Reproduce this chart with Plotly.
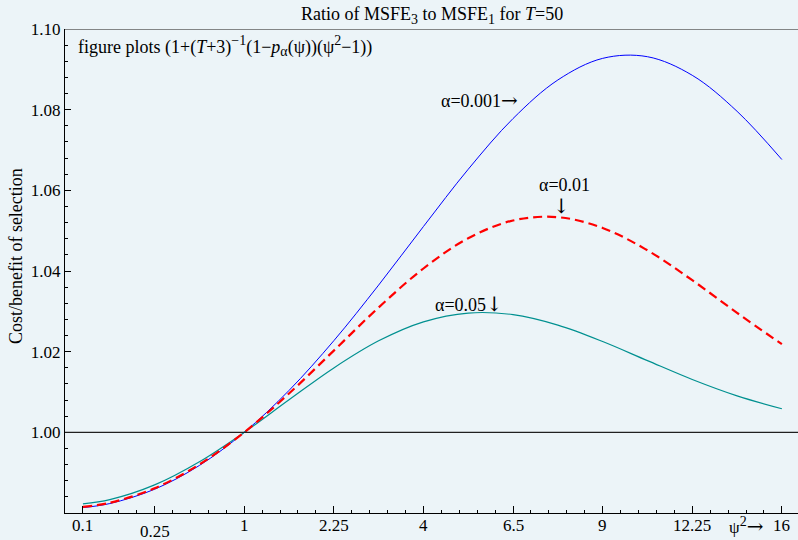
import plotly.graph_objects as go

# psi values (x axis is psi; tick labels show psi^2)
psi = [0.1, 0.25, 0.5, 0.75, 1.0, 1.25, 1.5, 1.75, 2.0, 2.25, 2.5, 2.75, 3.0, 3.25, 3.5, 3.75, 4.0]

ratio_a001 = [0.98134, 0.98234, 0.98589, 0.99179, 1.00000, 1.01039, 1.02272, 1.03651, 1.05103,
              1.06523, 1.07780, 1.08736, 1.09272, 1.09313, 1.08852, 1.07959, 1.06764]
ratio_a01 = [0.98152, 0.98253, 0.98613, 0.99203, 1.00000, 1.00963, 1.02026, 1.03096, 1.04062,
             1.04812, 1.05252, 1.05335, 1.05067, 1.04512, 1.03772, 1.02962, 1.02185]
ratio_a05 = [0.98228, 0.98332, 0.98697, 0.99271, 1.00000, 1.00807, 1.01597, 1.02269, 1.02740,
             1.02958, 1.02918, 1.02659, 1.02252, 1.01778, 1.01311, 1.00905, 1.00585]

x_tickvals = [0.1, 0.5, 1.0, 1.5, 2.0, 2.5, 3.0, 3.5, 4.0]
x_ticktext = ["0.1", "0.25", "1", "2.25", "4", "6.5", "9", "12.25", "16"]
x_label_drop = [0, 6, 0, 0, 0, 0, 0, 0, 0]

y_tickvals = [1.00, 1.02, 1.04, 1.06, 1.08, 1.10]
y_ticktext = ["1.00", "1.02", "1.04", "1.06", "1.08", "1.10"]

FONT = "Liberation Serif"
BG = "#ECF4F8"
RA = "<span style='font-family:DejaVu Serif;font-size:20px'>→</span>"
DA = "<span style='font-family:DejaVu Serif;font-size:20px'>↓</span>"
SUB = "<sub><span style='font-size:14px'>{}</span></sub>"
SUP = "<sup><span style='font-size:14px'>{}</span></sup>"

fig = go.Figure()
fig.add_trace(go.Scatter(x=psi, y=ratio_a001, mode="lines", line=dict(color="#0000FF", width=1, shape="spline"),
                         showlegend=False))
fig.add_trace(go.Scatter(x=psi, y=ratio_a05, mode="lines", line=dict(color="#009090", width=1.2, shape="spline"),
                         showlegend=False))
fig.add_trace(go.Scatter(x=psi, y=ratio_a01, mode="lines", line=dict(color="#FF0000", width=2.2, dash="9px,5px", shape="spline"),
                         showlegend=False))

shapes = [
    dict(type="line", xref="paper", yref="y", x0=0, x1=1, y0=1.10, y1=1.10, line=dict(color="#606060", width=1.6)),
    dict(type="line", xref="paper", yref="y", x0=0, x1=1, y0=1.00, y1=1.00, line=dict(color="#202020", width=1.4)),
]

annotations = []
for v, t, d in zip(x_tickvals, x_ticktext, x_label_drop):
    annotations.append(dict(x=v, y=0, xref="x", yref="paper", text=t, showarrow=False,
                            xanchor="center", yanchor="top", yshift=-1 - d,
                            font=dict(family=FONT, size=17, color="black")))
annotations += [
    dict(x=3.91, y=0, xref="x", yref="paper", text="ψ" + SUP.format("2") + RA, showarrow=False,
         xanchor="right", yanchor="top", yshift=1, font=dict(family=FONT, size=17, color="black")),
    dict(x=0.5, y=1, xref="paper", yref="paper",
         text="Ratio of MSFE" + SUB.format("3") + " to MSFE" + SUB.format("1") + " for <i>T</i>=50",
         showarrow=False, xanchor="center", yanchor="bottom", yshift=0,
         font=dict(family=FONT, size=18, color="black")),
    dict(x=0.06, y=1.0957, xref="x", yref="y",
         text="figure plots (1+(<i>T</i>+3)" + SUP.format("−1") + "(1−<i>p</i>" + SUB.format("α")
              + "(ψ))(ψ" + SUP.format("2") + "−1))",
         showarrow=False, xanchor="left", yanchor="middle", font=dict(family=FONT, size=18, color="black")),
    dict(x=2.54, y=1.0823, xref="x", yref="y", text="α=0.001" + RA, showarrow=False,
         xanchor="right", yanchor="middle", font=dict(family=FONT, size=18, color="black")),
    dict(x=2.787, y=1.0612, xref="x", yref="y", text="α=0.01", showarrow=False,
         xanchor="center", yanchor="middle", font=dict(family=FONT, size=18, color="black")),
    dict(x=2.77, y=1.0562, xref="x", yref="y", text=DA, showarrow=False,
         xanchor="center", yanchor="middle", font=dict(family=FONT, size=18, color="black")),
    dict(x=2.051, y=1.0319, xref="x", yref="y", text="α=0.05" + DA, showarrow=False,
         xanchor="left", yanchor="middle", font=dict(family=FONT, size=18, color="black")),
    dict(x=-0.066, y=0.53, xref="paper", yref="paper", text="Cost/benefit of selection", showarrow=False,
         textangle=-90, xanchor="center", yanchor="middle", font=dict(family=FONT, size=18, color="black")),
]

fig.update_layout(
    width=798, height=540,
    margin=dict(l=65, r=0, t=29, b=27, pad=0),
    paper_bgcolor=BG, plot_bgcolor=BG,
    shapes=shapes, annotations=annotations,
    font=dict(family=FONT, size=17, color="black"),
    xaxis=dict(range=[0, 4.09], showgrid=False, zeroline=False, showline=True, linecolor="black", linewidth=1.4,
               tickmode="array", tickvals=x_tickvals, showticklabels=False,
               ticks="inside", ticklen=7, tickwidth=1.2, tickcolor="black",
               minor=dict(tick0=0, dtick=0.1, ticks="inside", ticklen=3, tickwidth=1, tickcolor="black", showgrid=False)),
    yaxis=dict(range=[0.98, 1.10], showgrid=False, zeroline=False, showline=True, linecolor="black", linewidth=1.4,
               tickmode="array", tickvals=y_tickvals, ticktext=y_ticktext,
               ticks="inside", ticklen=6, tickwidth=1.2, tickcolor="black",
               tickfont=dict(family=FONT, size=17, color="black"),
               minor=dict(tick0=0, dtick=0.004, ticks="inside", ticklen=3, tickwidth=1, tickcolor="black", showgrid=False)),
)

fig.write_html("out.html")
